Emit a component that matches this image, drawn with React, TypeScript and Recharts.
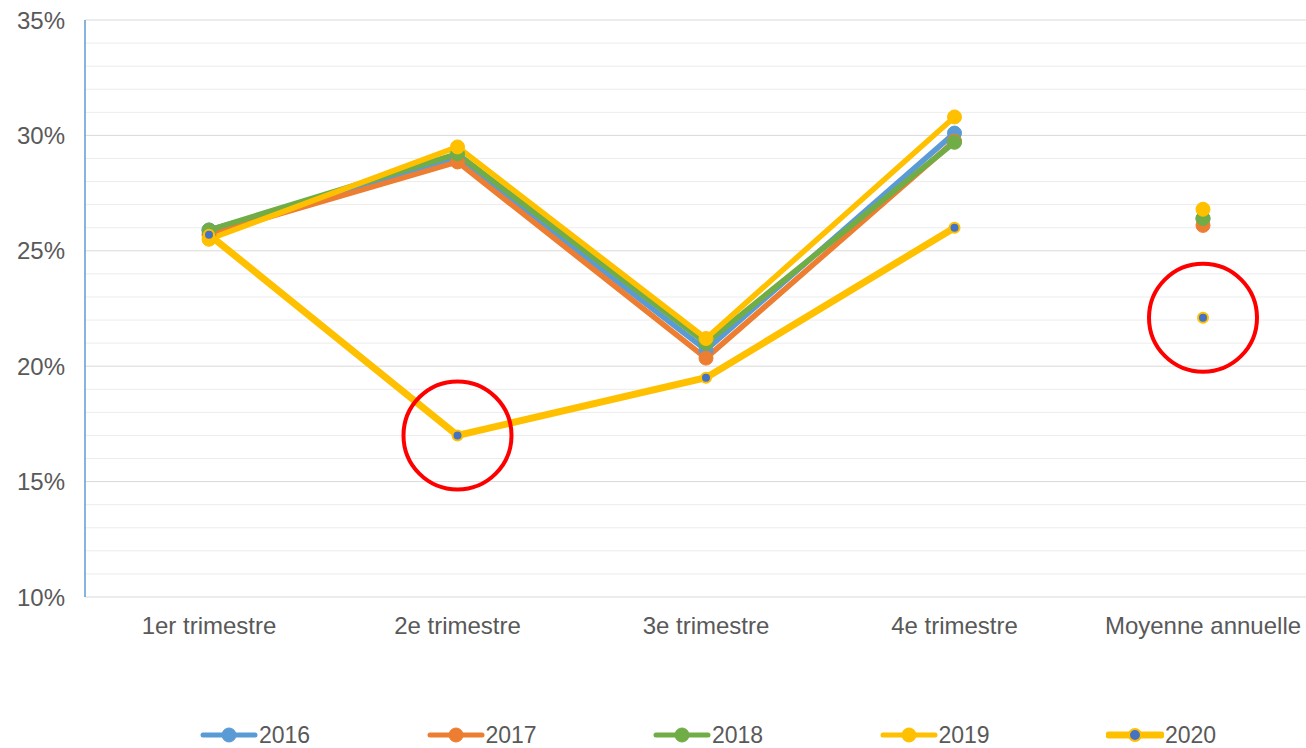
import { CartesianGrid, Legend, Line, LineChart, ReferenceDot, XAxis, YAxis } from "recharts";

const categories = ["1er trimestre", "2e trimestre", "3e trimestre", "4e trimestre", "Moyenne annuelle"];
const years = ["2016", "2017", "2018", "2019", "2020"];

// quarterly values (%), then the annual average
const v2016 = [25.9, 29.0, 20.7, 30.1];
const v2017 = [25.7, 28.85, 20.35, 29.75];
const v2018 = [25.9, 29.2, 21.0, 29.7];
const v2019 = [25.5, 29.5, 21.2, 30.8];
const v2020 = [25.7, 17.0, 19.5, 26.0];
const avg = [26.4, 26.1, 26.4, 26.8, 22.1];

const yTicks = [10, 15, 20, 25, 30, 35];
const minorTicks = [11, 12, 13, 14, 16, 17, 18, 19, 21, 22, 23, 24, 26, 27, 28, 29, 31, 32, 33, 34];

const colors = ["#5B9BD5", "#ED7D31", "#70AD47", "#FFC000", "#FFC000"];
const series = [v2016, v2017, v2018, v2019, v2020];

const data = categories.map((c, i) => {
  const row: Record<string, string | number | null> = { cat: c };
  years.forEach((y, k) => {
    row["q" + y] = i < 4 ? series[k][i] : null;
    row["a" + y] = i === 4 ? avg[k] : null;
  });
  return row;
});

const FONT = "Liberation Sans, Arial, sans-serif";
const TEXT = "#595959";

function LegendContent() {
  return (
    <div style={{ display: "flex", height: 30, alignItems: "center", paddingLeft: 200 }}>
      {years.map((y, k) => (
        <div key={y} style={{ flex: "0 0 226.5px", display: "flex", alignItems: "center" }}>
          <svg width={58} height={20}>
            <line x1={3} y1={10} x2={55} y2={10} stroke={colors[k]} strokeWidth={k === 4 ? 7 : 5} strokeLinecap="round" />
            <circle cx={29} cy={10} r={k === 4 ? 6 : 7} fill={k === 4 ? "#4472C4" : colors[k]} stroke={colors[k]} strokeWidth={k === 4 ? 2 : 1} />
          </svg>
          <span style={{ fontFamily: FONT, fontSize: 23, color: TEXT, marginLeft: 1 }}>{y}</span>
        </div>
      ))}
    </div>
  );
}

export default function App() {
  return (
    <div style={{ position: "absolute", left: 0, top: 0, width: 1306, height: 748, overflow: "hidden", background: "#fff" }}>
      <LineChart width={1330} height={748} data={data} margin={{ top: 20, right: 3, bottom: 61, left: 0 }}>
        <CartesianGrid horizontalValues={minorTicks} vertical={false} stroke="#ECECEC" strokeWidth={1} />
        <CartesianGrid horizontalValues={yTicks} vertical={false} stroke="#D9D9D9" strokeWidth={1} />
        <XAxis
          dataKey="cat"
          axisLine={false}
          tickLine={false}
          height={60}
          tickMargin={14}
          padding={{ left: 124, right: 124 }}
          tick={{ fontSize: 24, fill: TEXT, fontFamily: FONT }}
          interval={0}
        />
        <YAxis
          domain={[10, 35]}
          ticks={yTicks}
          width={85}
          tickLine={false}
          axisLine={{ stroke: "#5B9BD5", strokeWidth: 1.5 }}
          tickMargin={14}
          tickFormatter={(v) => v + "%"}
          tick={{ fontSize: 24, fill: TEXT, fontFamily: FONT }}
          allowDataOverflow
        />
        <Legend content={LegendContent} wrapperStyle={{ top: 720, left: 0, width: 1330 }} />
        {years.map((y, k) => (
          <Line
            key={"q" + y}
            dataKey={"q" + y}
            stroke={colors[k]}
            strokeWidth={k === 4 ? 7 : 5.5}
            isAnimationActive={false}
            connectNulls={false}
            dot={
              k === 4
                ? { r: 5, fill: "#4472C4", stroke: "#FFC000", strokeWidth: 2 }
                : { r: 7, fill: colors[k], stroke: colors[k], strokeWidth: 1 }
            }
            activeDot={false}
            legendType="none"
          />
        ))}
        {years.map((y, k) => (
          <Line
            key={"a" + y}
            dataKey={"a" + y}
            stroke="none"
            isAnimationActive={false}
            dot={
              k === 4
                ? { r: 5, fill: "#4472C4", stroke: "#FFC000", strokeWidth: 2 }
                : { r: 7, fill: colors[k], stroke: colors[k], strokeWidth: 1 }
            }
            activeDot={false}
            legendType="none"
          />
        ))}
        <ReferenceDot x="2e trimestre" y={17.0} r={54} fill="none" stroke="#FF0000" strokeWidth={4} />
        <ReferenceDot x="Moyenne annuelle" y={22.1} r={54} fill="none" stroke="#FF0000" strokeWidth={4} />
      </LineChart>
    </div>
  );
}
